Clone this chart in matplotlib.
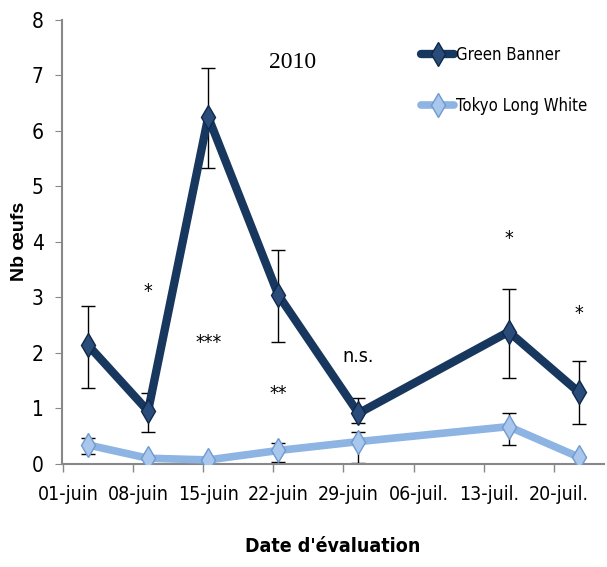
import numpy as np
import matplotlib
matplotlib.use("Agg")
import matplotlib.pyplot as plt

# days since 1 June (2010)
days = [2, 8, 14, 21, 29, 44, 51]
tick_days = [0, 7, 14, 21, 28, 35, 42, 49]
tick_labels = ["01-juin", "08-juin", "15-juin", "22-juin", "29-juin", "06-juil.", "13-juil.", "20-juil."]

gb = [2.14, 0.95, 6.25, 3.04, 0.91, 2.38, 1.29]
gb_lo = [0.77, 0.37, 0.92, 0.85, 0.17, 0.84, 0.57]
gb_hi = [0.71, 0.33, 0.88, 0.82, 0.27, 0.77, 0.57]

tlw = [0.34, 0.10, 0.07, 0.24, 0.40, 0.67, 0.12]
tlw_lo = [0.16, 0.0, 0.0, 0.20, 0.38, 0.34, 0.0]
tlw_hi = [0.12, 0.0, 0.0, 0.14, 0.18, 0.25, 0.0]

sig_labels = ["*", "***", "**", "n.s.", "*", "*"]
sig_x = [8, 14, 21, 29, 44, 51]
sig_y = [2.94, 2.01, 1.09, 1.77, 3.89, 2.54]

cond = dict(family="DejaVu Sans", stretch="condensed")

fig = plt.figure(figsize=(6.07, 5.67), dpi=100)
ax = fig.add_axes([0.102, 0.182, 0.893, 0.783])

ax.errorbar(days, tlw, yerr=[tlw_lo, tlw_hi], fmt="none", ecolor="black", elinewidth=1, capsize=5, zorder=2)
ax.plot(days, tlw, color="#8DB4E2", lw=5.5, marker="d", ms=12, mfc="#A9C6EC", mec="#6F9AD0",
        mew=1, solid_capstyle="round", label="Tokyo Long White", zorder=3)
ax.errorbar(days, gb, yerr=[gb_lo, gb_hi], fmt="none", ecolor="black", elinewidth=1, capsize=5, zorder=4)
ax.plot(days, gb, color="#17375E", lw=6, marker="d", ms=12, mfc="#2A4C7A", mec="#10284A",
        mew=1, solid_capstyle="round", label="Green Banner", zorder=5)

for lbl, x, y in zip(sig_labels, sig_x, sig_y):
    ax.text(x, y, lbl, ha="center", va="bottom", fontsize=14, **cond)

ax.set_xlim(-0.6, 53.5)
ax.set_ylim(0, 8)
ax.set_yticks(range(9))
ax.set_xticks(tick_days)
ax.set_xticklabels(tick_labels)
ax.set_xticks([d - 0.5 for d in tick_days], minor=True)
ax.tick_params(axis="x", which="major", length=0, pad=15, labelsize=14)
ax.tick_params(axis="x", which="minor", length=6, color="#888888", width=1)
ax.tick_params(axis="y", length=5, color="#888888", labelsize=15, pad=8)
for t in ax.get_xticklabels() + ax.get_yticklabels():
    t.set_family("DejaVu Sans")
    t.set_stretch("condensed")

for s in ["top", "right"]:
    ax.spines[s].set_visible(False)
for s in ["left", "bottom"]:
    ax.spines[s].set_color("#888888")
    ax.spines[s].set_linewidth(1.5)

ax.set_ylabel("Nb œufs", fontsize=14, fontweight="bold", family=["Liberation Sans", "DejaVu Sans"])
ax.yaxis.set_label_coords(-0.062, 0.5)
ax.set_xlabel("Date d'évaluation", fontsize=14, fontweight="bold", **cond)
ax.xaxis.set_label_coords(0.5, -0.165)

ax.text(0.425, 0.905, "2010", transform=ax.transAxes, ha="center", va="center",
        fontsize=17, family=["Liberation Serif", "DejaVu Serif"])

handles, labels = ax.get_legend_handles_labels()
ax.legend(handles[::-1], labels[::-1], loc="upper left", bbox_to_anchor=(0.635, 0.975), frameon=False,
          prop={"family": "DejaVu Sans", "stretch": "condensed", "size": 12},
          handlelength=2.0, handletextpad=0.1, labelspacing=2.0)

fig.savefig("out.png", dpi=100, facecolor="white")
